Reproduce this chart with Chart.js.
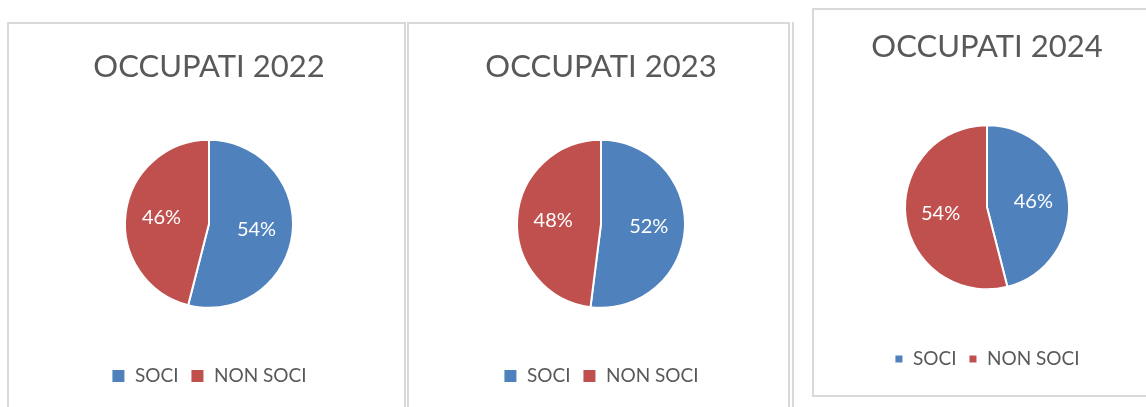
<!DOCTYPE html>
<html>
<head>
<meta charset="utf-8">
<script src="https://cdn.jsdelivr.net/npm/chart.js@4"></script>
<style>
  html, body { margin: 0; padding: 0; background: #fff; width: 1146px; height: 407px; overflow: hidden; }
  .panel { position: absolute; border: 2px solid #d9d9d9; background: #fff; box-sizing: border-box; }
  .panel canvas { position: absolute; left: 0; top: 0; }
  #sep { position: absolute; left: 792px; top: 22px; width: 2px; height: 400px; background: #d9d9d9; }
</style>
</head>
<body>
<div class="panel" id="p1" style="left:7px; top:22px; width:399px; height:420px;"><canvas id="c1" width="395" height="383"></canvas></div>
<div class="panel" id="p2" style="left:407px; top:22px; width:383px; height:420px;"><canvas id="c2" width="379" height="383"></canvas></div>
<div id="sep"></div>
<div class="panel" id="p3" style="left:812px; top:8px; width:350px; height:389px;"><canvas id="c3" width="346" height="385"></canvas></div>
<script>
// dati
const categories = ['SOCI', 'NON SOCI'];
const years = ['2022', '2023', '2024'];
const soci = [54, 52, 46];
const nonSoci = [46, 48, 54];

const colors = ['#4f81bd', '#c0504d'];
const textColor = '#595959';

// etichette percentuali dentro le fette
const pctLabels = {
  id: 'pctLabels',
  afterDatasetsDraw(chart) {
    const ctx = chart.ctx;
    const meta = chart.getDatasetMeta(0);
    const data = chart.data.datasets[0].data;
    const total = data.reduce((a, b) => a + b, 0);
    ctx.save();
    ctx.fillStyle = '#fff';
    ctx.font = '20px Lato';
    ctx.textAlign = 'center';
    ctx.textBaseline = 'middle';
    meta.data.forEach((arc, i) => {
      const p = arc.getProps(['x', 'y', 'startAngle', 'endAngle', 'outerRadius']);
      const mid = (p.startAngle + p.endAngle) / 2;
      const r = p.outerRadius * 0.57;
      ctx.fillText(Math.round(data[i] / total * 100) + '%', p.x + Math.cos(mid) * r, p.y + Math.sin(mid) * r);
    });
    ctx.restore();
  }
};

function makePie(id, i, opts) {
  new Chart(document.getElementById(id), {
    type: 'pie',
    data: {
      labels: categories,
      datasets: [{
        data: [soci[i], nonSoci[i]],
        backgroundColor: colors,
        borderColor: '#fff',
        borderWidth: 2,
        radius: opts.radius
      }]
    },
    options: {
      responsive: false,
      animation: false,
      layout: { padding: { left: opts.padLeft || 0, bottom: opts.padBottom } },
      plugins: {
        title: {
          display: true,
          text: 'OCCUPATI ' + years[i],
          color: textColor,
          font: { family: 'Lato', size: 31, weight: 'normal' },
          padding: { top: opts.titleTop, bottom: opts.titleBottom }
        },
        legend: {
          position: 'bottom',
          labels: {
            color: textColor,
            font: { family: 'Lato', size: 19 },
            boxWidth: opts.box,
            boxHeight: opts.box,
            padding: 12
          }
        },
        tooltip: { enabled: false }
      }
    },
    plugins: [pctLabels]
  });
}

makePie('c1', 0, { radius: 84, titleTop: 24, titleBottom: 8, padBottom: 11.5, padLeft: 5, box: 14 });
makePie('c2', 1, { radius: 84, titleTop: 24, titleBottom: 8, padBottom: 11.5, padLeft: 5, box: 14 });
makePie('c3', 2, { radius: 82, titleTop: 18, titleBottom: 12, padBottom: 16.5, box: 9 });
</script>
</body>
</html>
